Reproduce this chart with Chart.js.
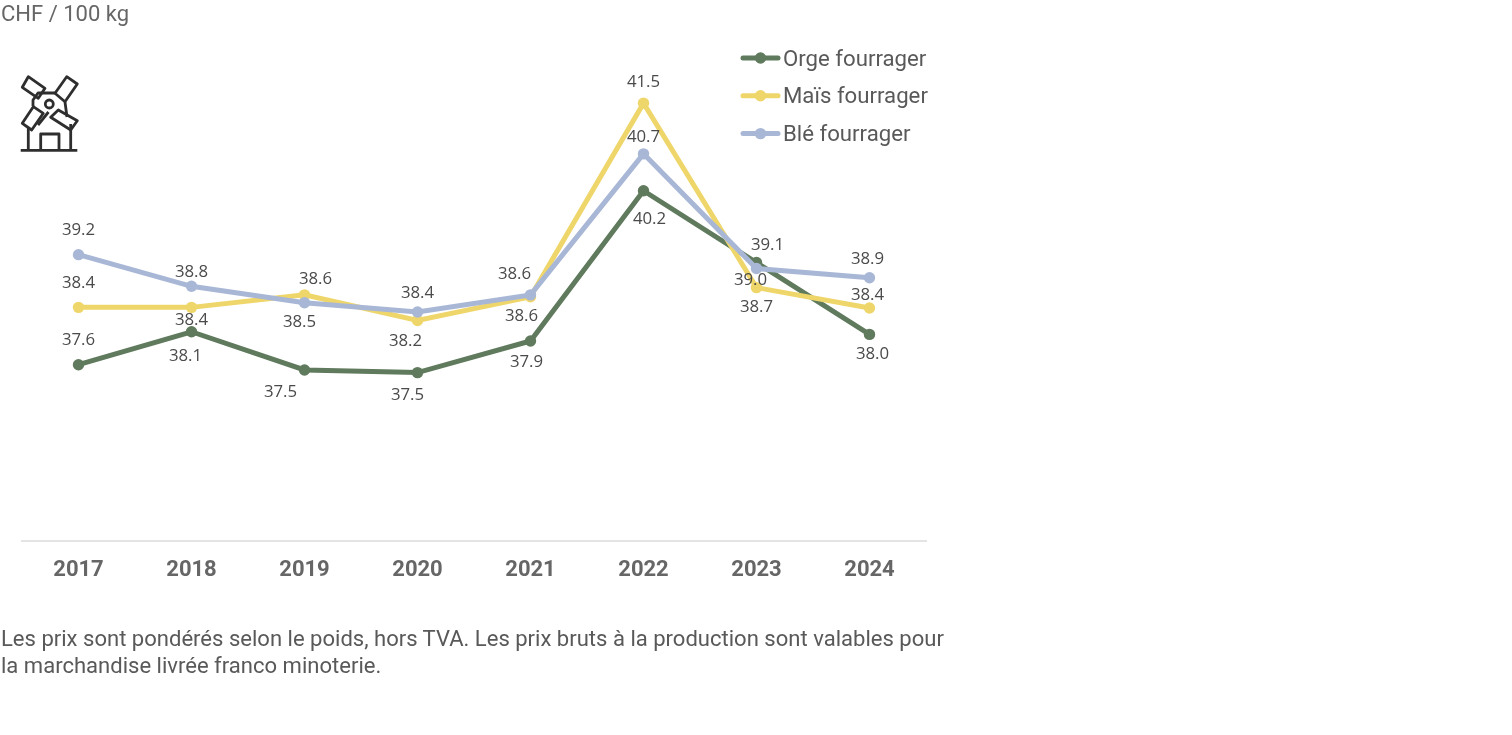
<!DOCTYPE html>
<html lang="fr">
<head>
<meta charset="utf-8">
<title>Prix à la production</title>
<script src="https://cdn.jsdelivr.net/npm/chart.js@4"></script>
<style>
    html, body { margin: 0; padding: 0; background: #fff; overflow: hidden; }
    #wrap { position: relative; width: 1512px; height: 735px; font-family: Roboto, sans-serif; color: #595959; }
    #chart { position: absolute; left: 0; top: 0; }
    #unit { position: absolute; left: 1px; top: 1px; font-size: 22px; line-height: 26px; color: #666; }
    #note { position: absolute; left: 1px; top: 625px; width: 960px; font-size: 22.05px; line-height: 27px; color: #595959; }
    #mill { position: absolute; left: 0; top: 60px; }
</style>
</head>
<body>
<div id="wrap">
    <canvas id="chart" width="1512" height="735"></canvas>
    <div id="unit">CHF / 100 kg</div>
    <svg id="mill" width="120" height="110" viewBox="0 0 120 110" fill="none" stroke="#2e2e2e" stroke-width="2.8" stroke-linejoin="round">
        <path d="M20.7 90.3H77.3" />
        <path d="M28.3 90V67M70.7 90V64M40.7 90V74H59V90" />
        <path d="M33 46V40L38 33H44L55 33M65 42L67 57M38 65L48.5 52" />
        <path d="M28.3 16.7L45 28.3L38.3 38.3L22.3 27.3Z" />
        <path d="M66.7 16.7L77.3 24L65 41.7L55 33.3Z" />
        <path d="M22.3 63.3L31.7 70L43.3 53.3L33.3 46.7Z" />
        <path d="M58.3 50L77.3 60.7L70.7 70L50.7 57.3Z" />
        <circle cx="49.3" cy="44" r="4" />
    </svg>
    <div id="note">Les prix sont pondérés selon le poids, hors TVA. Les prix bruts à la production sont valables pour<br>la marchandise livrée franco minoterie.</div>
</div>
<script>
const years = ["2017", "2018", "2019", "2020", "2021", "2022", "2023", "2024"];
const orge = [37.57, 38.07, 37.49, 37.45, 37.93, 40.21, 39.12, 38.03];
const mais = [38.44, 38.44, 38.63, 38.24, 38.6, 41.54, 38.74, 38.43];
const ble = [39.24, 38.76, 38.51, 38.37, 38.63, 40.77, 39.03, 38.89];

// etiquettes telles qu'imprimees sur l'original
const orgeLabels = ["37.6", "38.1", "37.5", "37.5", "37.9", "40.2", "39.1", "38.0"];
const maisLabels = ["38.4", "38.4", "38.6", "38.2", "38.6", "41.5", "38.7", "38.4"];
const bleLabels = ["39.2", "38.8", "38.5", "38.4", "38.6", "40.7", "39.0", "38.9"];

// decalage des etiquettes par rapport au point (px)
const orgeOffsets = [[0, -25], [-6, 23], [-24, 21], [-10, 22], [-4, 20], [6, 27], [11, -18], [3, 19]];
const maisOffsets = [[0, -25], [0, 12], [11, -17], [-12, 20], [-16, -24], [0, -22], [0, 19], [-2, -14]];
const bleOffsets = [[0, -25], [0, -15], [-5, 18], [0, -20], [-9, 20], [0, -18], [-6, 11], [-2, -19]];

const COLORS = { orge: "#5f7a5c", mais: "#efd66a", ble: "#a9b7d6", label: "#4a4a4a", legend: "#595959", axis: "#e4e4e4" };

function series(label, data, color, texts, offsets, order) {
    return {
        label, data, order, texts, offsets,
        borderColor: color,
        backgroundColor: color,
        borderWidth: 5,
        pointRadius: 5.7,
        pointBorderWidth: 0,
        pointHoverRadius: 5.7,
        tension: 0,
    };
}

const valueLabels = {
    id: "valueLabels",
    afterDatasetsDraw(chart) {
        const { ctx } = chart;
        ctx.save();
        ctx.font = "16.8px 'Open Sans', sans-serif";
        ctx.fillStyle = COLORS.label;
        ctx.textAlign = "center";
        ctx.textBaseline = "middle";
        chart.data.datasets.forEach((ds, i) => {
            chart.getDatasetMeta(i).data.forEach((pt, j) => {
                const [dx, dy] = ds.offsets[j];
                ctx.fillText(ds.texts[j], pt.x + dx, pt.y + dy + 1);
            });
        });
        ctx.restore();
    },
};

const lineLegend = {
    id: "lineLegend",
    afterDraw(chart) {
        const { ctx } = chart;
        ctx.save();
        ctx.font = "22.2px Roboto, sans-serif";
        ctx.textBaseline = "middle";
        chart.data.datasets.forEach((ds, i) => {
            const y = 58 + i * 37.8;
            ctx.strokeStyle = ds.borderColor;
            ctx.lineWidth = 5;
            ctx.lineCap = "round";
            ctx.beginPath();
            ctx.moveTo(743, y);
            ctx.lineTo(778, y);
            ctx.stroke();
            ctx.fillStyle = ds.backgroundColor;
            ctx.beginPath();
            ctx.arc(760.5, y, 5.7, 0, Math.PI * 2);
            ctx.fill();
            ctx.fillStyle = COLORS.legend;
            ctx.fillText(ds.label, 783, y + 2);
        });
        ctx.restore();
    },
};

new Chart(document.getElementById("chart").getContext("2d"), {
    type: "line",
    data: {
        labels: years,
        datasets: [
            series("Orge fourrager", orge, COLORS.orge, orgeLabels, orgeOffsets, 3),
            series("Maïs fourrager", mais, COLORS.mais, maisLabels, maisOffsets, 2),
            series("Blé fourrager", ble, COLORS.ble, bleLabels, bleOffsets, 1),
        ],
    },
    options: {
        responsive: false,
        animation: false,
        layout: { padding: { left: 22, right: 586, top: 30, bottom: 134 } },
        plugins: { legend: { display: false }, tooltip: { enabled: false } },
        scales: {
            x: {
                offset: true,
                grid: { display: false, drawTicks: false },
                border: { color: COLORS.axis, width: 2 },
                ticks: { color: "#666", font: { family: "Roboto", size: 22, weight: "bold" }, padding: 17, maxRotation: 0 },
            },
            y: { display: false, min: 34.9, max: 42.65 },
        },
    },
    plugins: [valueLabels, lineLegend],
});
</script>
</body>
</html>
